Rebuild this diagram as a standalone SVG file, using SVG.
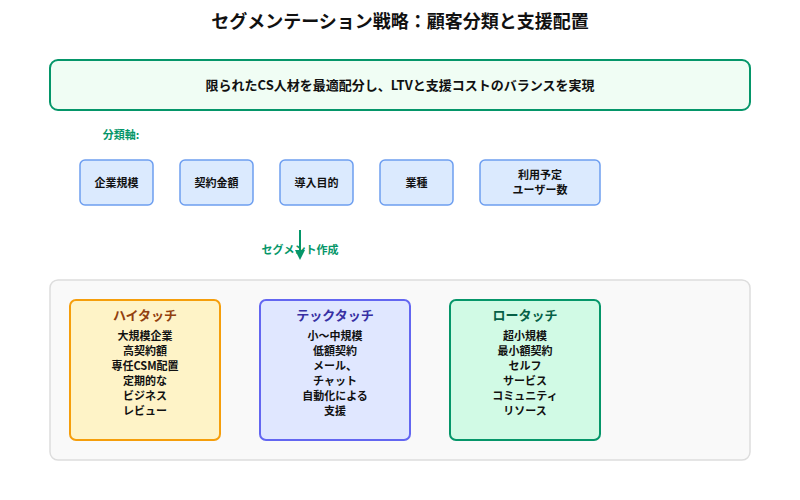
<svg xmlns="http://www.w3.org/2000/svg" width="800" height="500" viewBox="0 0 800 500">
<defs>
<style>
text{font-family:"Noto Sans CJK JP","Noto Sans",sans-serif;font-weight:bold;text-anchor:middle}
.ax{fill:#dbeafe;stroke:#6d9ef0;stroke-width:1.5}
.t{font-size:11px;fill:#111}
.g{fill:#059669;font-size:11px}
</style>
<marker id="ah" markerWidth="8" markerHeight="8" refX="4" refY="7" orient="auto" markerUnits="userSpaceOnUse"><path d="M0,0 L8,0 L4,8 z" fill="#059669" transform="rotate(-90 4 4) "/></marker>
</defs>
<rect width="800" height="500" fill="#fff"/>
<text x="400" y="28" font-size="18" fill="#111">セグメンテーション戦略：顧客分類と支援配置</text>
<g id="banner"><rect x="50" y="60" width="700" height="50" rx="8" fill="#f0fdf4" stroke="#059669" stroke-width="2"/>
<text x="400" y="90" font-size="13" fill="#111">限られたCS人材を最適配分し、LTVと支援コストのバランスを実現</text></g>
<text x="121" y="139" class="g" font-size="12">分類軸:</text>
<g id="ax1"><rect class="ax" x="80" y="160" width="73" height="45" rx="5"/><text class="t" x="116.5" y="187">企業規模</text></g>
<g id="ax2"><rect class="ax" x="180" y="160" width="73" height="45" rx="5"/><text class="t" x="216.5" y="187">契約金額</text></g>
<g id="ax3"><rect class="ax" x="280" y="160" width="73" height="45" rx="5"/><text class="t" x="316.5" y="187">導入目的</text></g>
<g id="ax4"><rect class="ax" x="380" y="160" width="73" height="45" rx="5"/><text class="t" x="416.5" y="187">業種</text></g>
<g id="ax5"><rect class="ax" x="480" y="160" width="120" height="45" rx="5"/><text class="t" x="540" y="179">利用予定</text><text class="t" x="540" y="194">ユーザー数</text></g>
<text x="300" y="254" class="g">セグメント作成</text>
<g id="connectors"><path d="M300,230 L300,258" stroke="#059669" stroke-width="2"/><path d="M295,250 L305,250 L300,260 z" fill="#059669"/></g>
<g id="container"><rect x="50" y="280" width="700" height="180" rx="8" fill="#f9f9f9" stroke="#ddd" stroke-width="1.5"/></g>
<g id="high"><rect x="70" y="300" width="150" height="140" rx="6" fill="#fef3c7" stroke="#f59e0b" stroke-width="2"/>
<text x="145" y="320" font-size="13" fill="#92400e">ハイタッチ</text>
<text class="t" x="145" y="340">大規模企業</text><text class="t" x="145" y="355">高契約額</text><text class="t" x="145" y="370">専任CSM配置</text><text class="t" x="145" y="385">定期的な</text><text class="t" x="145" y="400">ビジネス</text><text class="t" x="145" y="415">レビュー</text></g>
<g id="tech"><rect x="260" y="300" width="150" height="140" rx="6" fill="#e0e7ff" stroke="#6366f1" stroke-width="2"/>
<text x="335" y="320" font-size="13" fill="#3730a3">テックタッチ</text>
<text class="t" x="335" y="340">小〜中規模</text><text class="t" x="335" y="355">低額契約</text><text class="t" x="335" y="370">メール、</text><text class="t" x="335" y="385">チャット</text><text class="t" x="335" y="400">自動化による</text><text class="t" x="335" y="415">支援</text></g>
<g id="low"><rect x="450" y="300" width="150" height="140" rx="6" fill="#d1fae5" stroke="#059669" stroke-width="2"/>
<text x="525" y="320" font-size="13" fill="#065f46">ロータッチ</text>
<text class="t" x="525" y="340">超小規模</text><text class="t" x="525" y="355">最小額契約</text><text class="t" x="525" y="370">セルフ</text><text class="t" x="525" y="385">サービス</text><text class="t" x="525" y="400">コミュニティ</text><text class="t" x="525" y="415">リソース</text></g>
</svg>
